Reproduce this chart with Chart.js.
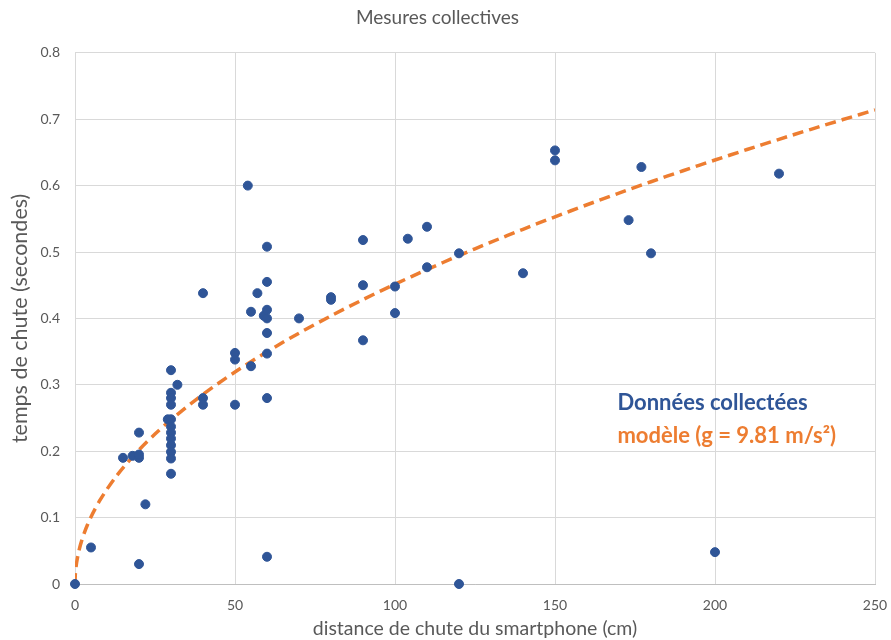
<!DOCTYPE html>
<html>
<head>
<meta charset="utf-8">
<script src="https://cdn.jsdelivr.net/npm/chart.js@4/dist/chart.umd.min.js"></script>
<style>
  html, body { margin: 0; padding: 0; background: #fff; }
  #wrap { width: 891px; height: 640px; }
</style>
</head>
<body>
<div id="wrap"><canvas id="c" width="891" height="640"></canvas></div>
<script>
// Measured drops: fall distance (cm) and fall time (s)
const distancesCm = [0, 5, 15, 18, 20, 20, 20, 20, 22, 29, 30, 30, 30, 30, 30, 30, 30, 30, 30, 30, 30, 30, 32,
  40, 40, 40, 50, 50, 50, 54, 55, 55, 57, 59, 60, 60, 60, 60, 60, 60, 60, 60, 70, 80, 80, 90, 90, 90,
  100, 100, 104, 110, 110, 120, 120, 140, 150, 150, 173, 177, 180, 200, 220];
const timesS = [0, 0.055, 0.19, 0.193, 0.19, 0.195, 0.228, 0.03, 0.12, 0.248, 0.322, 0.288, 0.28, 0.27, 0.248,
  0.237, 0.228, 0.219, 0.209, 0.199, 0.189, 0.166, 0.3,
  0.438, 0.28, 0.27, 0.348, 0.338, 0.27, 0.6, 0.41, 0.328, 0.438, 0.404, 0.508, 0.455, 0.413, 0.4, 0.378,
  0.347, 0.28, 0.041, 0.4, 0.432, 0.428, 0.518, 0.45, 0.367,
  0.448, 0.408, 0.52, 0.538, 0.477, 0.498, 0, 0.468, 0.653, 0.638, 0.548, 0.628, 0.498, 0.048, 0.618];

// Free-fall model t = sqrt(2h / g), sampled at these heights (cm)
const G = 9.81;
const modelDistancesCm = [0, 0.1, 0.25, 0.5, 1, 1.5, 2, 3, 4, 5, 6, 8, 10, 12.5, 15, 20, 25, 30, 40, 50, 60, 70,
  80, 90, 100, 110, 120, 130, 140, 150, 160, 170, 180, 190, 200, 210, 220, 230, 240, 250];

const xTicks = [0, 50, 100, 150, 200, 250];
const yTicks = [0, 0.1, 0.2, 0.3, 0.4, 0.5, 0.6, 0.7, 0.8];

const measured = distancesCm.map((d, i) => ({ x: d, y: timesS[i] }));
const model = modelDistancesCm.map(d => ({ x: d, y: Math.sqrt(2 * (d / 100) / G) }));

const BLUE = '#2F5597';
const ORANGE = '#ED7D31';
const GREY_TEXT = '#595959';
const GRID = '#D9D9D9';
const FONT = 'Lato, "Open Sans", sans-serif';

// Series labels written inside the plot area
const seriesLabels = {
  id: 'seriesLabels',
  afterDatasetsDraw(chart) {
    const { ctx, scales: { x, y } } = chart;
    ctx.save();
    ctx.font = 'bold 22px ' + FONT;
    ctx.textBaseline = 'middle';
    ctx.textAlign = 'left';
    ctx.fillStyle = BLUE;
    ctx.fillText('Données collectées', x.getPixelForValue(169.5), y.getPixelForValue(0.273));
    ctx.fillStyle = ORANGE;
    ctx.fillText('modèle (g = 9.81 m/s²)', x.getPixelForValue(169.5), y.getPixelForValue(0.223));
    ctx.restore();
  }
};

new Chart(document.getElementById('c'), {
  type: 'scatter',
  data: {
    datasets: [
      {
        label: 'Données collectées',
        data: measured,
        backgroundColor: BLUE,
        borderColor: BLUE,
        pointRadius: 4.5,
        pointHoverRadius: 4.5,
        clip: false,
        order: 1
      },
      {
        label: 'modèle (g = 9.81 m/s²)',
        type: 'line',
        data: model,
        borderColor: ORANGE,
        borderWidth: 3.5,
        borderDash: [11, 6],
        pointRadius: 0,
        fill: false,
        tension: 0.3,
        order: 2
      }
    ]
  },
  options: {
    responsive: false,
    animation: false,
    layout: { padding: { left: 0, right: 16, top: 0, bottom: 0 } },
    plugins: {
      legend: { display: false },
      tooltip: { enabled: false },
      title: {
        display: true,
        text: 'Mesures collectives',
        color: GREY_TEXT,
        font: { family: FONT, size: 19, weight: 'normal', lineHeight: 1.2 },
        padding: { top: 6, bottom: 24 }
      }
    },
    scales: {
      x: {
        type: 'linear',
        min: 0,
        max: 250,
        afterBuildTicks: s => { s.ticks = xTicks.map(v => ({ value: v })); },
        afterFit: s => { s.height = 56; s.paddingLeft = 0; s.paddingRight = 0; },
        grid: { color: GRID, drawTicks: false, lineWidth: 1 },
        border: { display: true, color: '#BFBFBF' },
        ticks: { color: GREY_TEXT, font: { family: FONT, size: 14 }, padding: 13 },
        title: {
          display: true,
          text: 'distance de chute du smartphone (cm)',
          color: GREY_TEXT,
          font: { family: FONT, size: 19.5 },
          padding: { top: 0, bottom: 0 }
        }
      },
      y: {
        type: 'linear',
        min: 0,
        max: 0.8,
        afterBuildTicks: s => { s.ticks = yTicks.map(v => ({ value: v })); },
        afterFit: s => { s.width = 75; },
        grid: { color: GRID, drawTicks: false, lineWidth: 1 },
        border: { display: false },
        ticks: {
          color: GREY_TEXT,
          font: { family: FONT, size: 14 },
          padding: 15,
          callback: v => String(Math.round(v * 10) / 10)
        },
        title: {
          display: true,
          text: 'temps de chute (secondes)',
          color: GREY_TEXT,
          font: { family: FONT, size: 21.5 },
          padding: { top: 7, bottom: 0 }
        }
      }
    }
  },
  plugins: [seriesLabels]
});
</script>
</body>
</html>
